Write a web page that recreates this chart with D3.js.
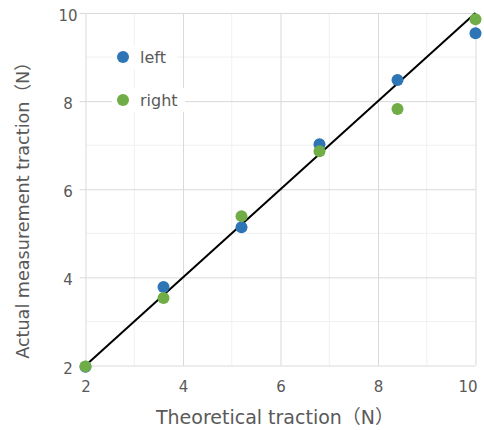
<!DOCTYPE html>
<html><head><meta charset="utf-8">
<script src="https://cdn.jsdelivr.net/npm/d3@7"></script>
<style>body{margin:0;background:#fff}svg{display:block}</style>
</head><body><svg id="c" width="484" height="430"></svg>
<script>
const theoretical = [2, 3.6, 5.2, 6.8, 8.4, 10];
const leftValues = [1.97, 3.78, 5.14, 7.02, 8.48, 9.54];
const rightValues = [1.98, 3.53, 5.39, 6.86, 7.82, 9.86];
const seriesNames = ["left", "right"];
const tickValues = [2, 4, 6, 8, 10];
const xTitle = "Theoretical traction（N）";
const yTitle = "Actual measurement traction（N）";

const colors = {left: "#2E75B6", right: "#70AD47"};
const font = "'DejaVu Sans', 'Noto Sans CJK JP', sans-serif";
const svg = d3.select("#c");
const x = d3.scaleLinear().domain([2, 10]).range([85.5, 475.5]);
const y = d3.scaleLinear().domain([2, 10]).range([365.5, 13]);

const minor = [3, 5, 7, 9];
const g = svg.append("g");
g.selectAll(".mx").data(minor).join("line")
  .attr("x1", d => x(d)).attr("x2", d => x(d)).attr("y1", y(10)).attr("y2", y(2))
  .attr("stroke", "#f0f0f0").attr("stroke-width", 1);
g.selectAll(".my").data(minor).join("line")
  .attr("y1", d => y(d)).attr("y2", d => y(d)).attr("x1", x(2)).attr("x2", x(10))
  .attr("stroke", "#f0f0f0").attr("stroke-width", 1);

const xAxis = svg.append("g").attr("transform", `translate(0,${y(2)})`)
  .call(d3.axisBottom(x).tickValues(tickValues).tickSize(-(y(2) - y(10))).tickPadding(16).tickFormat(d3.format("d")));
const yAxis = svg.append("g").attr("transform", `translate(${x(2)},0)`)
  .call(d3.axisLeft(y).tickValues(tickValues).tickSizeInner(x(2) - x(10)).tickSizeOuter(0).tickFormat(d3.format("d")));
[xAxis, yAxis].forEach(a => {
  a.select(".domain").remove();
  a.selectAll(".tick line").attr("stroke", "#d9d9d9");
  a.selectAll(".tick text").attr("fill", "#595959").style("font-family", font).style("font-size", "15px");
});
yAxis.selectAll(".tick line").attr("x1", -6);
yAxis.selectAll(".tick text").attr("x", 68 - x(2)).attr("text-anchor", "middle").attr("dy", "0.5em");
xAxis.selectAll(".tick text").filter(d => d === 10).attr("text-anchor", "end").attr("x", 1.5);

const leg = svg.append("g");
seriesNames.forEach((n, i) => {
  const ly = 57 + i * 43;
  leg.append("rect").attr("x", 112).attr("y", ly - 12).attr("width", n === "left" ? 65 : 73).attr("height", 24).attr("fill", "#fff");
  leg.append("circle").attr("cx", 123).attr("cy", ly).attr("r", 6).attr("fill", colors[n]);
  leg.append("text").attr("x", 140).attr("y", ly).attr("dy", "0.35em").attr("fill", "#595959")
    .style("font-family", font).style("font-size", "16px").text(n);
});

svg.append("line").attr("x1", x(2)).attr("y1", y(2)).attr("x2", x(10)).attr("y2", y(10))
  .attr("stroke", "#000").attr("stroke-width", 2);

svg.append("g").selectAll("circle").data(theoretical.map((t, i) => ({t, v: leftValues[i]}))).join("circle")
  .attr("cx", d => x(d.t)).attr("cy", d => y(d.v)).attr("r", 6).attr("fill", colors.left);
svg.append("g").selectAll("circle").data(theoretical.map((t, i) => ({t, v: rightValues[i]}))).join("circle")
  .attr("cx", d => x(d.t)).attr("cy", d => y(d.v)).attr("r", 6).attr("fill", colors.right);

svg.append("text").attr("x", 275).attr("y", 424).attr("text-anchor", "middle").attr("fill", "#595959")
  .style("font-family", font).style("font-size", "19px").text(xTitle);
svg.append("text").attr("transform", "translate(29,206) rotate(-90)").attr("text-anchor", "middle").attr("fill", "#595959")
  .style("font-family", font).style("font-size", "17.6px").text(yTitle);
</script></body></html>
